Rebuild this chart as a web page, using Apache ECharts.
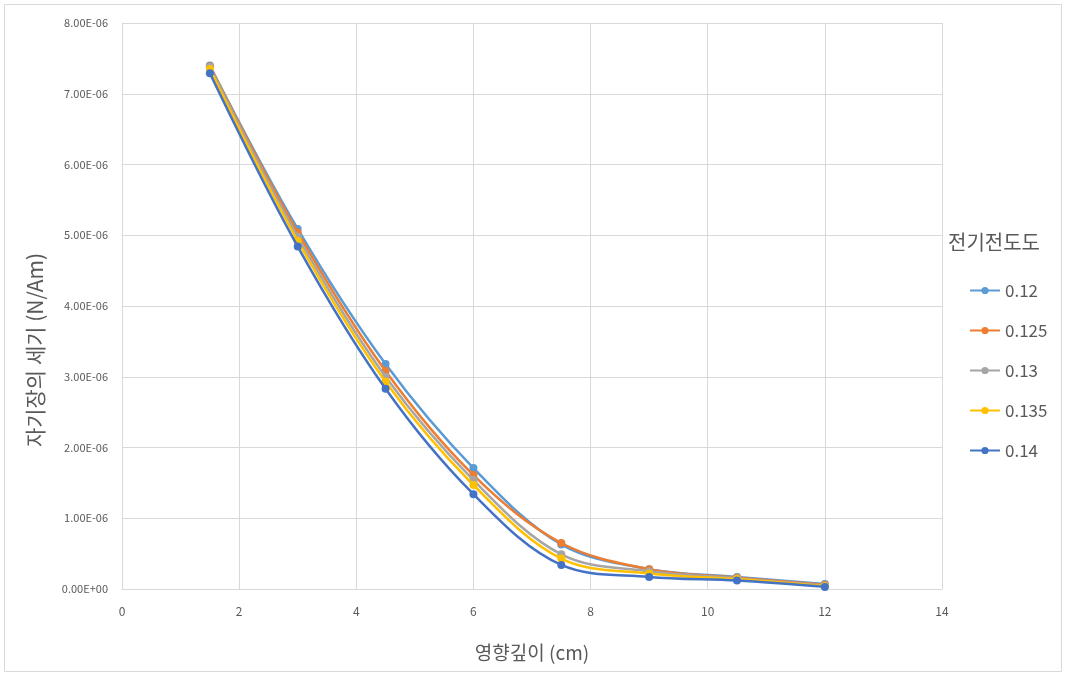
<!DOCTYPE html>
<html>
<head>
<meta charset="utf-8">
<script src="https://cdn.jsdelivr.net/npm/echarts@6/dist/echarts.min.js"></script>
<style>
html,body{margin:0;padding:0;background:#fff;}
#c{width:1066px;height:675px;}
</style>
</head>
<body>
<div id="c"></div>
<script>
var depths = [1.5, 3, 4.5, 6, 7.5, 9, 10.5, 12];
var seriesNames = ['0.12', '0.125', '0.13', '0.135', '0.14'];
var s012  = [7.40e-6, 5.09e-6, 3.18e-6, 1.71e-6, 0.63e-6, 0.28e-6, 0.17e-6, 0.07e-6];
var s0125 = [7.39e-6, 5.04e-6, 3.08e-6, 1.61e-6, 0.65e-6, 0.28e-6, 0.16e-6, 0.06e-6];
var s013  = [7.38e-6, 4.98e-6, 3.00e-6, 1.54e-6, 0.49e-6, 0.25e-6, 0.15e-6, 0.05e-6];
var s0135 = [7.35e-6, 4.92e-6, 2.93e-6, 1.47e-6, 0.43e-6, 0.22e-6, 0.14e-6, 0.04e-6];
var s014  = [7.29e-6, 4.84e-6, 2.83e-6, 1.34e-6, 0.34e-6, 0.17e-6, 0.12e-6, 0.03e-6];
var allValues = [s012, s0125, s013, s0135, s014];
var colors = ['#5B9BD5', '#ED7D31', '#A5A5A5', '#FFC000', '#4472C4'];
var yTitle = '자기장의 세기 (N/Am)';
var xTitle = '영향깊이 (cm)';
var legendTitle = '전기전도도';

function fmtE(v) {
  if (Math.abs(v) < 1e-20) return '0.00E+00';
  var s = v.toExponential(2).toUpperCase();
  var parts = s.split('E');
  var exp = parseInt(parts[1], 10);
  var sign = exp < 0 ? '-' : '+';
  var e = Math.abs(exp);
  return parts[0] + 'E' + sign + (e < 10 ? '0' + e : e);
}

var chart = echarts.init(document.getElementById('c'), null, {renderer: 'canvas'});
var series = seriesNames.map(function (n, i) {
  return {
    name: n,
    type: 'line',
    smooth: 0.35,
    symbol: 'circle',
    symbolSize: 8,
    lineStyle: {width: 2.5, color: colors[i]},
    itemStyle: {color: colors[i]},
    data: depths.map(function (d, j) { return [d, allValues[i][j]]; }),
    z: 2 + i
  };
});
var font = '"Noto Sans CJK KR", "Noto Sans", sans-serif';
chart.setOption({
  animation: false,
  backgroundColor: '#fff',
  textStyle: {fontFamily: font},
  graphic: [{
    type: 'rect', silent: true,
    shape: {x: 4.5, y: 4.5, width: 1057, height: 667},
    style: {fill: 'none', stroke: '#d9d9d9', lineWidth: 1}
  }, {
    type: 'text', silent: true,
    x: 35, y: 350, rotation: Math.PI / 2,
    style: {
      text: yTitle, fill: '#595959', fontSize: 21, fontFamily: font,
      align: 'center', verticalAlign: 'middle'
    }
  }],
  title: {
    text: legendTitle,
    left: 943, top: 227,
    textStyle: {fontSize: 20, fontWeight: 'normal', color: '#595959', fontFamily: font}
  },
  legend: {
    orient: 'vertical',
    left: 964, top: 277,
    itemWidth: 30, itemHeight: 9,
    itemGap: 23,
    textStyle: {fontSize: 17, color: '#595959', fontFamily: font},
    data: seriesNames
  },
  grid: {left: 122, right: 124, top: 23, bottom: 86, containLabel: false},
  xAxis: {
    type: 'value', min: 0, max: 14, interval: 2,
    name: xTitle, nameLocation: 'middle', nameGap: 54,
    nameTextStyle: {fontSize: 19, color: '#595959'},
    axisLine: {show: true, lineStyle: {color: '#d9d9d9'}},
    axisTick: {show: false},
    axisLabel: {fontSize: 12, color: '#595959', margin: 16},
    splitLine: {show: true, lineStyle: {color: '#d9d9d9'}}
  },
  yAxis: {
    type: 'value', min: 0, max: 8e-6, interval: 1e-6,
    axisLine: {show: true, lineStyle: {color: '#d9d9d9'}},
    axisTick: {show: false},
    axisLabel: {fontSize: 11, color: '#595959', margin: 14, formatter: fmtE},
    splitLine: {show: true, lineStyle: {color: '#d9d9d9'}}
  },
  series: series
});
</script>
</body>
</html>
